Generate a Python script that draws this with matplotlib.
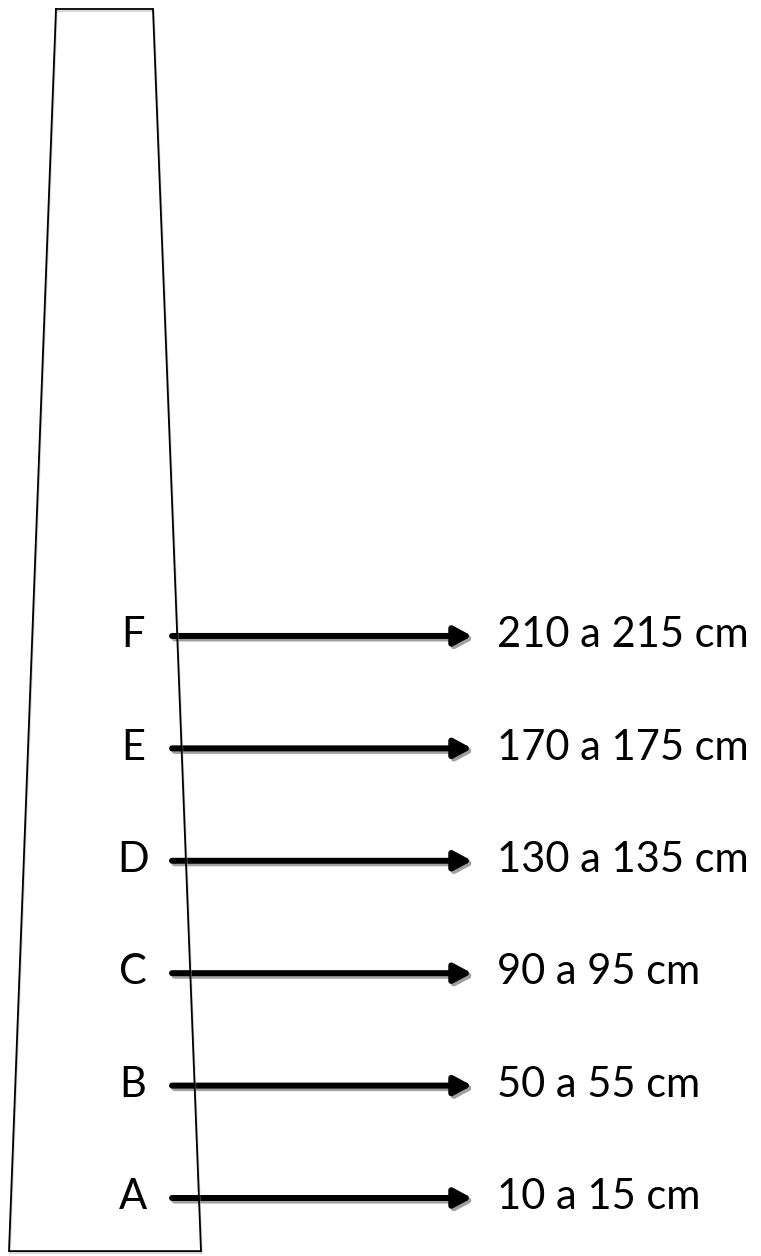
import matplotlib
matplotlib.use("Agg")
import matplotlib.pyplot as plt
from matplotlib.patches import FancyArrowPatch
import matplotlib.patheffects as pe

labels = ["A", "B", "C", "D", "E", "F"]
low_cm = [10, 50, 90, 130, 170, 210]
high_cm = [15, 55, 95, 135, 175, 215]
range_text = [f"{lo} a {hi} cm" for lo, hi in zip(low_cm, high_cm)]

trunk_base_cm = -6.4
trunk_top_cm = 435.6

fig = plt.figure(figsize=(7.61, 12.56), dpi=100)
ax = fig.add_axes([0, 0, 1, 1])
ax.set_xlim(0, 761)
ax.set_ylim(-8.14, 438.8)
ax.axis("off")

# trunk outline (trapezoid) with soft shadow
tx = [56, 153, 201, 9, 56]
ty = [trunk_top_cm, trunk_top_cm, trunk_base_cm, trunk_base_cm, trunk_top_cm]
ax.plot(tx, ty, color="black", lw=1.3, solid_joinstyle="miter",
        path_effects=[pe.SimpleLineShadow(offset=(0.6, -1.5), shadow_color="#aaaaaa", alpha=0.5), pe.Normal()])

font = "Lato"
for lab, lo, hi, txt in zip(labels, low_cm, high_cm, range_text):
    y = (lo + hi) / 2
    for off, col in [((2.5, -0.9), "#a0a0a0"), ((0, 0), "black")]:
        a = FancyArrowPatch((172 + off[0], y + off[1]), (472 + off[0], y + off[1]),
                            arrowstyle="-|>,head_length=1.3,head_width=0.7",
                            mutation_scale=8, lw=4.3, color=col,
                            shrinkA=0, shrinkB=0)
        ax.add_patch(a)
    ax.text(133, y + 0.3, lab, fontsize=30, family=font, ha="center", va="center", color="black")
    ax.text(497, y + 0.3, txt, fontsize=30, family=font, ha="left", va="center", color="black")

fig.savefig("out.png", dpi=100)
